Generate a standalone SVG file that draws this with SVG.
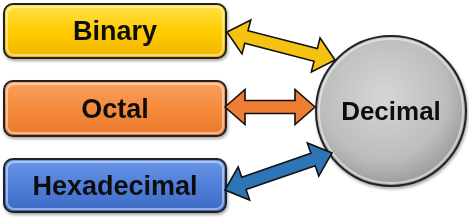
<svg xmlns="http://www.w3.org/2000/svg" width="469" height="222" viewBox="0 0 469 222">
<defs>
<linearGradient id="gY" x1="0" y1="0" x2="0" y2="1"><stop offset="0" stop-color="#FFE14A"/><stop offset="0.5" stop-color="#FFCC00"/><stop offset="1" stop-color="#F0B400"/></linearGradient>
<linearGradient id="gO" x1="0" y1="0" x2="0" y2="1"><stop offset="0" stop-color="#F9A160"/><stop offset="0.5" stop-color="#F58A3C"/><stop offset="1" stop-color="#E8782A"/></linearGradient>
<linearGradient id="gB" x1="0" y1="0" x2="0" y2="1"><stop offset="0" stop-color="#6B96E6"/><stop offset="0.5" stop-color="#4F7FDA"/><stop offset="1" stop-color="#3D69C4"/></linearGradient>
<radialGradient id="gC" cx="0.45" cy="0.4" r="0.6"><stop offset="0" stop-color="#D6D6D6"/><stop offset="0.7" stop-color="#BDBDBD"/><stop offset="1" stop-color="#9C9C9C"/></radialGradient>
<filter id="sh" x="-10%" y="-10%" width="120%" height="130%"><feDropShadow dx="1" dy="2" stdDeviation="1.5" flood-color="#000" flood-opacity="0.35"/></filter>
</defs>
<style>
.box{stroke:#222;stroke-width:2}
.hl{fill:none;stroke:#fff;stroke-opacity:0.45;stroke-width:2}
.lbl{font-family:"Liberation Sans",Arial,sans-serif;font-weight:bold;font-size:27px;fill:#111;text-anchor:middle}
.arr{stroke:#111;stroke-width:1.6;stroke-linejoin:miter}
</style>
<g id="binary" filter="url(#sh)">
<rect class="box" x="4" y="4" width="222" height="54" rx="9" fill="url(#gY)"/>
<rect class="hl" x="7" y="7" width="216" height="48" rx="7"/>
<text class="lbl" x="115" y="40">Binary</text>
</g>
<g id="octal" filter="url(#sh)">
<rect class="box" x="4" y="81" width="222" height="55" rx="9" fill="url(#gO)"/>
<rect class="hl" x="7" y="84" width="216" height="49" rx="7"/>
<text class="lbl" x="115" y="118">Octal</text>
</g>
<g id="hexadecimal" filter="url(#sh)">
<rect class="box" x="4" y="159" width="222" height="53" rx="9" fill="url(#gB)"/>
<rect class="hl" x="7" y="162" width="216" height="47" rx="7"/>
<text class="lbl" x="115" y="195">Hexadecimal</text>
</g>
<g id="decimal" filter="url(#sh)">
<circle cx="391" cy="111" r="75" fill="url(#gC)" stroke="#222" stroke-width="2"/>
<circle cx="391" cy="111" r="72" fill="none" stroke="#fff" stroke-opacity="0.5" stroke-width="2"/>
<text class="lbl" x="391" y="120" style="font-size:26px">Decimal</text>
</g>
<g id="connectors">
<polygon class="arr" fill="#F5C211" transform="translate(227,32) rotate(14.5)" points="0,0 20,-17.5 20,-6.5 91.6,-6.5 91.6,-17.5 111.6,0 91.6,17.5 91.6,6.5 20,6.5 20,17.5"/>
<polygon class="arr" fill="#EE7E33" transform="translate(225,107)" points="0,0 20,-17.5 20,-6.5 70,-6.5 70,-17.5 90,0 70,17.5 70,6.5 20,6.5 20,17.5"/>
<polygon class="arr" fill="#2E75B6" transform="translate(225,190) rotate(-19.1)" points="0,0 20,-17.5 20,-6.5 93.2,-6.5 93.2,-17.5 113.2,0 93.2,17.5 93.2,6.5 20,6.5 20,17.5"/>
</g>
</svg>
